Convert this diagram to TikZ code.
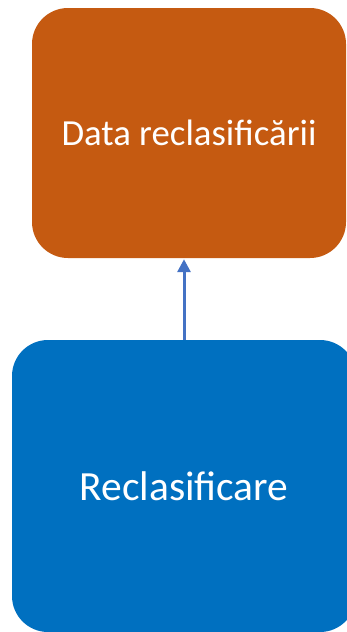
\documentclass[tikz,border=0pt]{standalone}
\usepackage{fontspec}
\setmainfont{Carlito}
\usetikzlibrary{arrows.meta,positioning}
\definecolor{rust}{HTML}{C55A11}
\definecolor{azure}{HTML}{0070C0}
\definecolor{link}{HTML}{4472C4}

\begin{document}
\begin{tikzpicture}[x=1pt,y=-1pt,>=Triangle,every node/.style={text=white,inner sep=0pt},box/.style={rounded corners=36pt,align=center},flow/.style={->,link,line width=3pt,shorten >=1pt,arrows={-Triangle[width=13pt,length=13pt]}}]
\useasboundingbox (0,0) rectangle (347,632);

\node[box,fill=rust,minimum width=314pt,minimum height=250pt,font=\fontsize{36.8}{44}\selectfont] (datarec) at (189,133) {Data reclasificării};
\node[box,fill=azure,minimum width=344pt,minimum height=292pt,font=\fontsize{41.5}{50}\selectfont] (reclas) at (184,486) {Reclasificare};
\draw[flow] (reclas.north) -- (reclas.north |- datarec.south);

\end{tikzpicture}
\end{document}
